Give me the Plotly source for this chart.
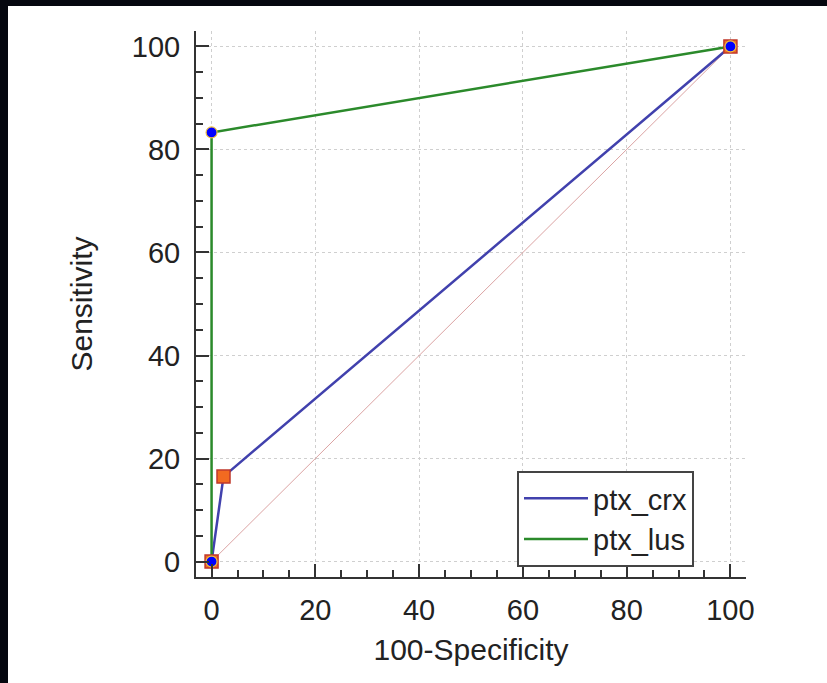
import plotly.graph_objects as go

# ROC data (100-Specificity, Sensitivity)
crx_fpr = [0, 2.3, 100]
crx_sens = [0, 16.5, 100]
lus_fpr = [0, 0, 100]
lus_sens = [0, 83.3, 100]
diag_x = [0, 100]
diag_y = [0, 100]
series_names = ["ptx_crx", "ptx_lus"]
tick_vals = [0, 20, 40, 60, 80, 100]

FONT = "Liberation Sans, Arial, sans-serif"

fig = go.Figure()

fig.add_trace(go.Scatter(x=diag_x, y=diag_y, mode="lines",
                         line=dict(color="#dba3a3", width=1),
                         showlegend=False, hoverinfo="skip"))

fig.add_trace(go.Scatter(x=crx_fpr, y=crx_sens, mode="lines", name=series_names[0],
                         line=dict(color="#4141ad", width=2.5)))
fig.add_trace(go.Scatter(x=lus_fpr, y=lus_sens, mode="lines", name=series_names[1],
                         line=dict(color="#2b8a2b", width=2.5)))

fig.add_trace(go.Scatter(x=crx_fpr, y=crx_sens, mode="markers", showlegend=False,
                         marker=dict(symbol="square", size=13, color="#f26a21",
                                     line=dict(color="#c0392b", width=1.5)),
                         cliponaxis=False))
fig.add_trace(go.Scatter(x=lus_fpr, y=lus_sens, mode="markers", showlegend=False,
                         marker=dict(symbol="circle", size=11, color="#0000ff",
                                     line=dict(color="#f0c040", width=1.2)),
                         cliponaxis=False))

axis_common = dict(
    range=[-3, 103],
    tickvals=tick_vals,
    showgrid=True, gridcolor="#cfcfcf", gridwidth=1, griddash="dot",
    zeroline=False,
    showline=True, linecolor="#333333", linewidth=2,
    ticks="inside", ticklen=13, tickwidth=2, tickcolor="#333333",
    minor=dict(dtick=5, ticks="inside", ticklen=7, tickwidth=1.5,
               tickcolor="#333333", showgrid=False),
    tickfont=dict(family=FONT, size=29, color="#222222"),
    fixedrange=True,
)

fig.update_xaxes(**axis_common, ticklabelstandoff=6,
                 title=dict(text="100-Specificity", standoff=14,
                            font=dict(family=FONT, size=30, color="#222222")))
fig.update_yaxes(**axis_common, ticklabelstandoff=8,
                 title=dict(text="Sensitivity", standoff=30,
                            font=dict(family=FONT, size=30, color="#222222")))

L, T, R, B = 196, 31, 81, 106
PW, PH = 827 - L - R, 683 - T - B

fig.update_layout(
    width=827, height=683,
    margin=dict(l=L, r=R, t=T, b=B),
    paper_bgcolor="white",
    plot_bgcolor="white",
    font=dict(family=FONT, size=29, color="#222222"),
    showlegend=True,
    legend=dict(x=(517 - L) / PW, y=(683 - B - 471) / PH, xanchor="left", yanchor="top",
                bgcolor="white", bordercolor="#444444", borderwidth=2,
                font=dict(family=FONT, size=29, color="#222222"),
                itemwidth=64, entrywidth=200, entrywidthmode="pixels",
                tracegroupgap=0),
    shapes=[
        dict(type="rect", xref="paper", yref="paper",
             x0=-1, x1=2, y0=(683 - B - 6) / PH, y1=2,
             fillcolor="#05070f", line=dict(width=0), layer="above"),
        dict(type="rect", xref="paper", yref="paper",
             x0=-1, x1=(8 - L) / PW, y0=-1, y1=2,
             fillcolor="#05070f", line=dict(width=0), layer="above"),
    ],
)

fig.write_html("out.html", config={"displayModeBar": False},
               post_script="document.body.style.margin='0';"
                           "document.documentElement.style.overflow='hidden';"
                           "document.body.style.overflow='hidden';")
